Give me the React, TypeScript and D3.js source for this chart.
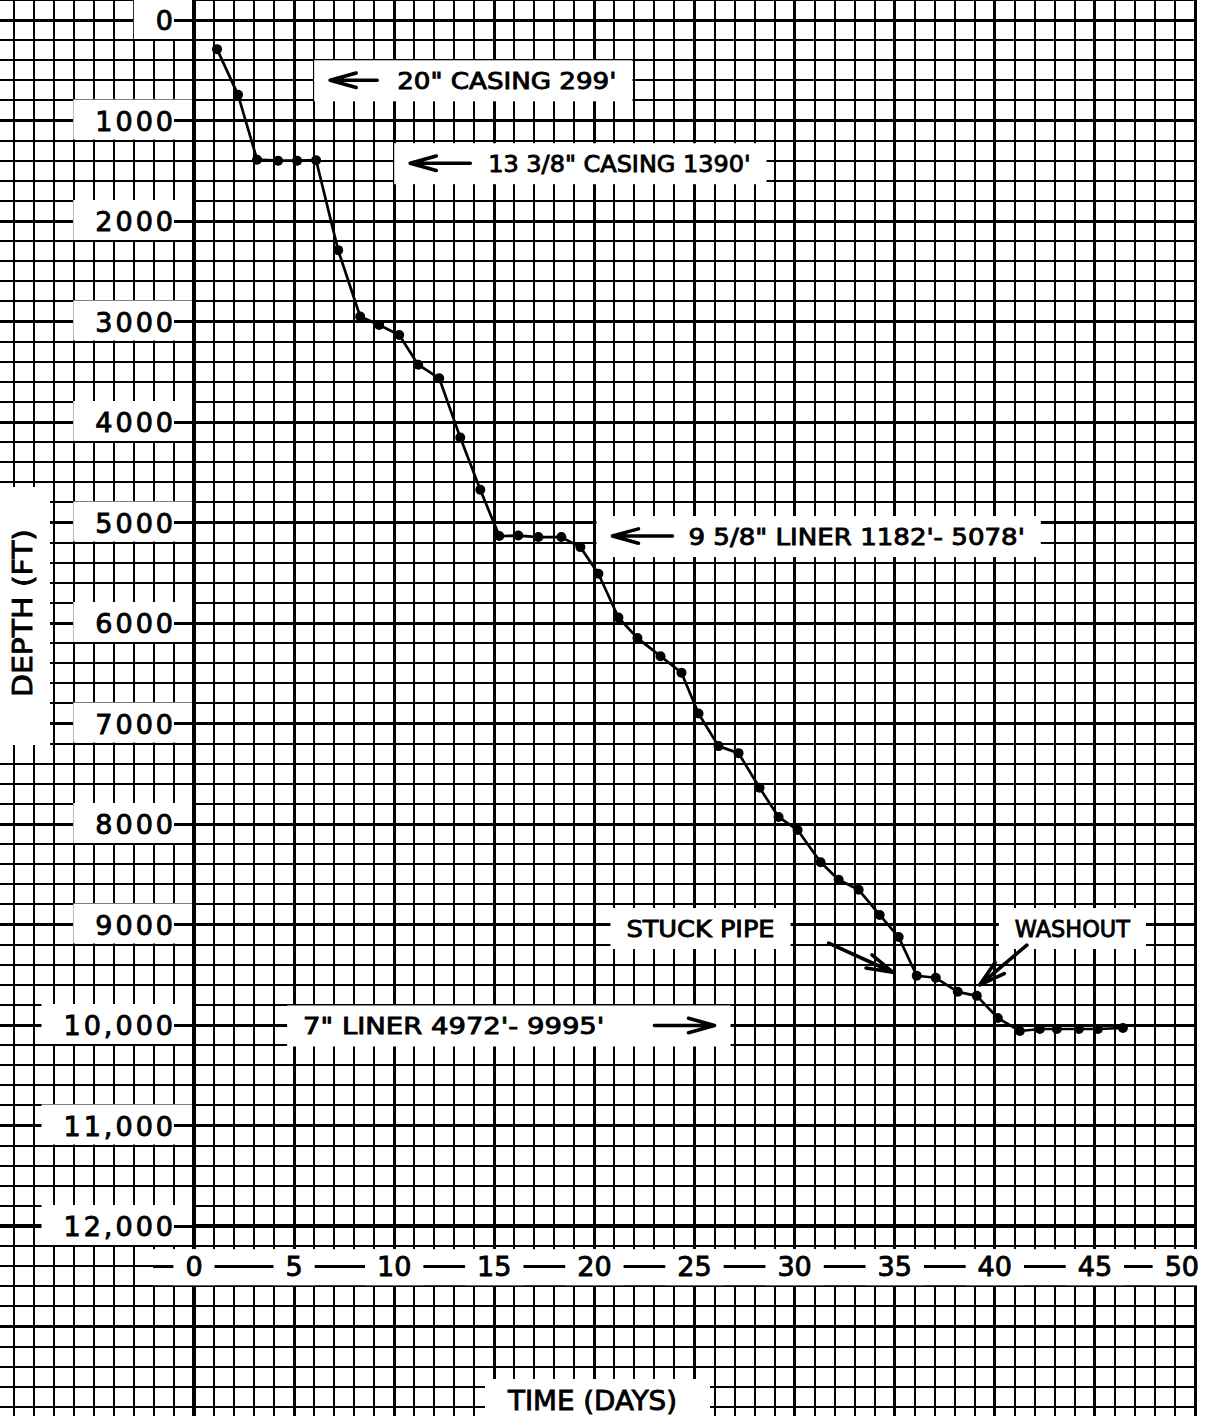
import * as d3 from 'd3';
import { select } from 'd3';
import React, { Component, RefObject } from 'react';

// drilling curve, read dot by dot off the chart
const days: number[] = [
  1.15, 2.2, 3.15, 4.2, 5.15, 6.1, 7.2, 8.3, 9.25, 10.25,
  11.2, 12.25, 13.3, 14.3, 15.25, 16.2, 17.2, 18.35, 19.3, 20.2,
  21.2, 22.15, 23.3, 24.35, 25.2, 26.2, 27.2, 28.25, 29.2, 30.15,
  31.3, 32.2, 33.2, 34.25, 35.2, 36.1, 37.05, 38.15, 39.1, 40.15,
  41.25, 42.25, 43.1, 44.2, 45.15, 46.4,
];
const depths: number[] = [
  290, 745, 1390, 1400, 1400, 1395, 2290, 2950, 3035, 3135,
  3430, 3565, 4155, 4675, 5135, 5130, 5145, 5145, 5245, 5510,
  5945, 6150, 6330, 6495, 6900, 7225, 7295, 7640, 7930, 8060,
  8380, 8555, 8655, 8905, 9125, 9510, 9530, 9670, 9710, 9930,
  10060, 10040, 10040, 10040, 10040, 10030,
];

const depthTicks: number[] = [0, 1000, 2000, 3000, 4000, 5000, 6000, 7000, 8000, 9000, 10000, 11000, 12000];
const depthLabels: string[] = ['0', '1000', '2000', '3000', '4000', '5000', '6000', '7000', '8000', '9000', '10,000', '11,000', '12,000'];
const dayTicks: number[] = [0, 5, 10, 15, 20, 25, 30, 35, 40, 45, 50];
const dayLabels: string[] = ['0', '5', '10', '15', '20', '25', '30', '35', '40', '45', '50'];

interface Note {
  text: string;
  start: number; // day where the lettering starts
  end: number;   // day where it ends
  depth: number; // centre line of the lettering
  tail: [number, number];
  tip: [number, number];
  boxArrow: boolean;
}

const notes: Note[] = [
  { text: '20" CASING  299\'', start: 10.15, end: 21.1, depth: 600, tail: [9.15, 600], tip: [6.8, 600], boxArrow: true },
  { text: '13 3/8" CASING 1390\'', start: 14.7, end: 27.8, depth: 1425, tail: [13.8, 1425], tip: [10.8, 1425], boxArrow: true },
  { text: '9  5/8" LINER 1182\'- 5078\'', start: 24.7, end: 41.5, depth: 5135, tail: [23.9, 5135], tip: [20.9, 5135], boxArrow: true },
  { text: '7" LINER 4972\'- 9995\'', start: 5.45, end: 20.5, depth: 10005, tail: [23.0, 10005], tip: [26.0, 10005], boxArrow: true },
  { text: 'STUCK PIPE', start: 21.6, end: 29.0, depth: 9035, tail: [31.7, 9185], tip: [34.9, 9475], boxArrow: false },
  { text: 'WASHOUT', start: 41.0, end: 46.75, depth: 9035, tail: [41.6, 9205], tip: [39.25, 9600], boxArrow: false },
];

const W = 1215;
const H = 1416;

export default class App extends Component<{}> {
  private ref: RefObject<SVGSVGElement | null>;

  constructor(props: {}) {
    super(props);
    this.ref = React.createRef();
  }

  componentDidMount() {
    this.draw();
  }

  draw() {
    const svg = select(this.ref.current);
    svg.selectAll('*').remove();

    const x = d3.scaleLinear().domain([0, 50]).range([194, 1195]);
    const y = d3.scaleLinear().domain([0, 12000]).range([20, 1226]);
    const font = "'DejaVu Sans', 'Liberation Sans', sans-serif";

    svg.append('rect').attr('width', W).attr('height', H).attr('fill', '#fff');

    // graph paper
    const vGrid = svg.append('g').attr('stroke', '#000').attr('shape-rendering', 'crispEdges');
    vGrid.selectAll('line')
      .data(d3.range(-9, 51))
      .join('line')
      .attr('x1', d => x(d))
      .attr('x2', d => x(d))
      .attr('y1', 0)
      .attr('y2', H)
      .attr('stroke-width', d => (d === 0 ? 4 : d > 0 && d % 5 === 0 ? 3 : 2));

    const hGrid = svg.append('g').attr('stroke', '#000').attr('shape-rendering', 'crispEdges');
    hGrid.selectAll('line')
      .data(d3.range(-200, 14000, 200))
      .join('line')
      .attr('x1', 0)
      .attr('x2', x(50) + 1)
      .attr('y1', d => y(d))
      .attr('y2', d => y(d))
      .attr('stroke-width', d => (d === 12000 ? 4 : d % 1000 === 0 ? 3 : 2));

    const maskA = svg.append('g').attr('fill', '#fff');
    const lineA = svg.append('g').attr('stroke', '#000').attr('shape-rendering', 'crispEdges');
    const maskB = svg.append('g').attr('fill', '#fff');
    const lineB = svg.append('g').attr('stroke', '#000').attr('shape-rendering', 'crispEdges');
    const plot = svg.append('g');
    const labels = svg.append('g')
      .attr('font-family', font)
      .attr('font-weight', 'normal')
      .attr('fill', '#000')
      .attr('stroke', '#000')
      .attr('stroke-width', 0.9);

    // depth labels on white patches
    depthTicks.forEach((d, i) => {
      const t = labels.append('text')
        .attr('x', x(0) - 18)
        .attr('y', y(d) + 10)
        .attr('text-anchor', 'end')
        .attr('font-size', 27)
        .attr('letter-spacing', 3)
        .text(depthLabels[i]);
      const b = (t.node() as SVGTextElement).getBBox();
      const left = b.x - 22;
      maskB.append('rect')
        .attr('x', left)
        .attr('y', y(d) - 21)
        .attr('width', x(0) - 2 - left)
        .attr('height', 40);
      lineB.append('line')
        .attr('x1', b.x + b.width - 2)
        .attr('x2', x(0))
        .attr('y1', y(d))
        .attr('y2', y(d))
        .attr('stroke-width', 3);
    });

    // day labels in a white band under the axis
    const bandY = y(12400);
    maskA.append('rect')
      .attr('x', 153)
      .attr('y', bandY - 17)
      .attr('width', x(50) + 3 - 153)
      .attr('height', 36);
    lineA.append('line')
      .attr('x1', 153)
      .attr('x2', x(50))
      .attr('y1', bandY)
      .attr('y2', bandY)
      .attr('stroke-width', 3);
    dayTicks.forEach((d, i) => {
      const last = i === dayTicks.length - 1;
      const t = labels.append('text')
        .attr('x', last ? x(d) + 4 : x(d))
        .attr('y', bandY + 10)
        .attr('text-anchor', last ? 'end' : 'middle')
        .attr('font-size', 27)
        .text(dayLabels[i]);
      const b = (t.node() as SVGTextElement).getBBox();
      maskB.append('rect')
        .attr('x', b.x - 12)
        .attr('y', bandY - 17)
        .attr('width', b.width + 24)
        .attr('height', 36);
    });

    // axis titles
    maskB.append('rect').attr('x', 0).attr('y', 487).attr('width', 50).attr('height', 258);
    labels.append('text')
      .attr('transform', 'translate(22,613) rotate(-90)')
      .attr('y', 9.5)
      .attr('text-anchor', 'middle')
      .attr('font-size', 26)
      .attr('textLength', 168)
      .attr('lengthAdjust', 'spacingAndGlyphs')
      .text('DEPTH (FT)');

    maskB.append('rect').attr('x', 485).attr('y', 1379).attr('width', 225).attr('height', 40);
    labels.append('text')
      .attr('x', 508)
      .attr('y', 1410)
      .attr('font-size', 27)
      .attr('textLength', 169)
      .attr('lengthAdjust', 'spacingAndGlyphs')
      .text('TIME (DAYS)');

    // annotations
    const arrow = (x1: number, y1: number, x2: number, y2: number) => {
      const a = Math.atan2(y2 - y1, x2 - x1);
      const len = 27;
      const s = 0.27;
      const b1 = [x2 - len * Math.cos(a - s), y2 - len * Math.sin(a - s)];
      const b2 = [x2 - len * Math.cos(a + s), y2 - len * Math.sin(a + s)];
      plot.append('path')
        .attr('d', `M${x1},${y1}L${x2},${y2}M${b1[0]},${b1[1]}L${x2},${y2}L${b2[0]},${b2[1]}`)
        .attr('fill', 'none')
        .attr('stroke', '#000')
        .attr('stroke-width', 3.6)
        .attr('stroke-linecap', 'round')
        .attr('stroke-linejoin', 'round');
    };

    notes.forEach(n => {
      const x0 = x(n.start);
      const x1 = x(n.end);
      const cy = y(n.depth);
      let left = x0;
      let right = x1;
      if (n.boxArrow) {
        left = Math.min(left, x(n.tail[0]), x(n.tip[0]));
        right = Math.max(right, x(n.tail[0]), x(n.tip[0]));
      }
      maskB.append('rect')
        .attr('x', left - 16)
        .attr('y', cy - 20)
        .attr('width', right - left + 32)
        .attr('height', 41);
      labels.append('text')
        .attr('x', x0)
        .attr('y', cy + 8.5)
        .attr('font-size', 23)
        .attr('textLength', x1 - x0)
        .attr('lengthAdjust', 'spacingAndGlyphs')
        .text(n.text);
      arrow(x(n.tail[0]), y(n.tail[1]), x(n.tip[0]), y(n.tip[1]));
    });

    // the drilling curve
    const pts: [number, number][] = days.map((d, i) => [d, depths[i]]);
    plot.append('path')
      .datum(pts)
      .attr('d', d3.line<[number, number]>().x(p => x(p[0])).y(p => y(p[1])))
      .attr('fill', 'none')
      .attr('stroke', '#000')
      .attr('stroke-width', 2.7)
      .attr('stroke-linejoin', 'round');
    plot.selectAll('circle')
      .data(pts)
      .join('circle')
      .attr('cx', p => x(p[0]))
      .attr('cy', p => y(p[1]))
      .attr('r', 5)
      .attr('fill', '#000');
  }

  render() {
    return (
      <svg
        ref={this.ref}
        width={W}
        height={H}
        style={{ position: 'absolute', left: 0, top: 0, display: 'block' }}
      />
    );
  }
}
